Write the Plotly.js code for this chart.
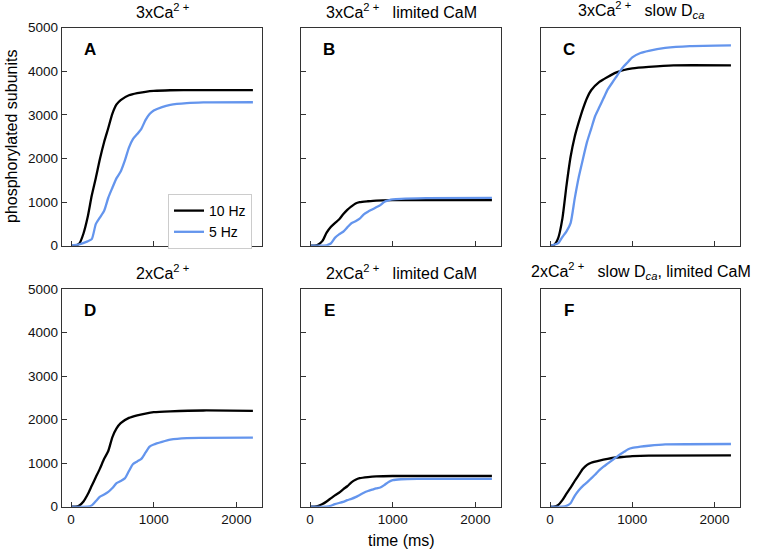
<!DOCTYPE html>
<html>
<head>
<meta charset="utf-8">
<script src="https://cdn.plot.ly/plotly-3.0.1.min.js"></script>
<style>html,body{margin:0;padding:0;background:#fff;}#chart{width:760px;height:551px;}</style>
</head>
<body>
<div id="chart"></div>
<script>
// ---- data (time in ms, phosphorylated subunits) ----
const panelLetters = ["A", "B", "C", "D", "E", "F"];
const panelTitles = [
  "3xCa<sup>2 +</sup>",
  "3xCa<sup>2 +</sup>&nbsp;&nbsp;&nbsp;limited CaM",
  "3xCa<sup>2 +</sup>&nbsp;&nbsp;&nbsp;slow D<sub><i>ca</i></sub>",
  "2xCa<sup>2 +</sup>",
  "2xCa<sup>2 +</sup>&nbsp;&nbsp;&nbsp;limited CaM",
  "2xCa<sup>2 +</sup>&nbsp;&nbsp;&nbsp;slow D<sub><i>ca</i></sub>, limited CaM"
];
const seriesNames = ["10 Hz", "5 Hz"];
const xTicks = [0, 1000, 2000];
const yTicks = [0, 1000, 2000, 3000, 4000, 5000];

// Panel A
const A_t10 = [0, 50, 100, 150, 200, 250, 300, 350, 400, 450, 500, 550, 600, 700, 800, 900, 1000, 1200, 1500, 2200];
const A_v10 = [0, 0, 50, 280, 650, 1150, 1560, 2000, 2380, 2700, 3030, 3240, 3340, 3450, 3500, 3530, 3550, 3565, 3570, 3570];
const A_t5 = [0, 100, 200, 250, 300, 350, 400, 450, 500, 550, 600, 650, 700, 750, 800, 850, 900, 950, 1000, 1100, 1200, 1400, 1600, 2200];
const A_v5 = [0, 30, 100, 150, 500, 650, 800, 1100, 1330, 1550, 1700, 1950, 2250, 2450, 2560, 2680, 2880, 3020, 3100, 3180, 3230, 3270, 3285, 3290];
// Panel B
const B_t10 = [0, 50, 100, 150, 200, 250, 300, 350, 400, 450, 500, 550, 600, 700, 800, 1000, 2200];
const B_v10 = [0, 0, 30, 110, 300, 430, 520, 600, 720, 820, 900, 970, 1000, 1020, 1035, 1045, 1045];
const B_t5 = [0, 100, 200, 250, 300, 350, 400, 450, 500, 550, 600, 650, 700, 750, 800, 850, 900, 950, 1000, 1100, 1400, 2200];
const B_v5 = [0, 0, 10, 50, 180, 260, 320, 420, 515, 560, 620, 720, 780, 830, 880, 930, 1010, 1040, 1060, 1075, 1090, 1095];
// Panel C
const C_t10 = [0, 50, 100, 150, 200, 250, 300, 350, 400, 450, 500, 600, 700, 800, 900, 1000, 1200, 1500, 2200];
const C_v10 = [0, 20, 180, 620, 1380, 2040, 2500, 2840, 3140, 3390, 3565, 3756, 3870, 3970, 4030, 4065, 4100, 4135, 4135];
const C_t5 = [0, 100, 150, 200, 250, 300, 350, 400, 450, 500, 550, 600, 650, 700, 750, 800, 850, 900, 950, 1000, 1100, 1200, 1400, 1700, 2200];
const C_v5 = [0, 60, 200, 330, 520, 1080, 1580, 1990, 2380, 2680, 2980, 3180, 3380, 3580, 3720, 3860, 4000, 4120, 4220, 4320, 4420, 4470, 4535, 4578, 4595];
// Panel D
const D_t10 = [0, 50, 100, 150, 200, 250, 300, 350, 400, 450, 500, 550, 600, 700, 800, 900, 1000, 1200, 1600, 2200];
const D_v10 = [0, 0, 30, 120, 280, 480, 680, 880, 1100, 1280, 1600, 1800, 1920, 2040, 2100, 2140, 2170, 2190, 2210, 2200];
const D_t5 = [0, 200, 250, 300, 350, 400, 450, 500, 550, 600, 650, 700, 750, 800, 850, 900, 950, 1000, 1100, 1200, 1400, 2200];
const D_v5 = [0, 0, 30, 130, 230, 280, 340, 430, 540, 590, 650, 820, 980, 1040, 1100, 1240, 1380, 1430, 1490, 1540, 1575, 1585];
// Panel E
const E_t10 = [0, 50, 100, 150, 200, 250, 300, 350, 400, 450, 500, 550, 600, 700, 800, 1000, 2200];
const E_v10 = [0, 0, 20, 60, 120, 190, 260, 320, 400, 470, 560, 620, 655, 680, 695, 705, 705];
const E_t5 = [0, 200, 250, 300, 400, 450, 500, 550, 600, 650, 700, 750, 800, 850, 900, 950, 1000, 1100, 1300, 2200];
const E_v5 = [0, 0, 20, 60, 110, 150, 180, 220, 270, 320, 360, 390, 420, 440, 500, 570, 610, 630, 640, 640];
// Panel F
const F_t10 = [0, 50, 100, 150, 200, 250, 300, 350, 400, 450, 500, 600, 700, 800, 900, 1000, 1200, 2200];
const F_v10 = [0, 0, 40, 150, 300, 440, 590, 730, 870, 960, 1010, 1060, 1100, 1130, 1145, 1160, 1175, 1180];
const F_t5 = [0, 150, 200, 250, 300, 350, 400, 450, 500, 550, 600, 650, 700, 750, 800, 850, 900, 950, 1000, 1100, 1200, 1400, 2200];
const F_v5 = [0, 0, 20, 80, 250, 380, 480, 560, 650, 740, 840, 920, 990, 1060, 1130, 1200, 1260, 1320, 1350, 1380, 1400, 1430, 1440];

const panels = [
  [A_t10, A_v10, A_t5, A_v5],
  [B_t10, B_v10, B_t5, B_v5],
  [C_t10, C_v10, C_t5, C_v5],
  [D_t10, D_v10, D_t5, D_v5],
  [E_t10, E_v10, E_t5, E_v5],
  [F_t10, F_v10, F_t5, F_v5]
];

// ---- layout geometry (pixels) ----
const W = 760, H = 551;
const colPx = [[62, 262], [301, 501], [541, 740]];
const rowPx = [[27.7, 245.7], [289, 506.7]];
const colors = ["#000000", "#6495ED"];
const FONT = "Liberation Sans, Arial, sans-serif";

const traces = [];
const layout = {
  width: W, height: H,
  margin: {l: 0, r: 0, t: 0, b: 0},
  paper_bgcolor: "#fff", plot_bgcolor: "#fff",
  font: {family: FONT, size: 13.5, color: "#000"},
  showlegend: true,
  legend: {
    x: 168 / W, y: 1 - 194 / H, xanchor: "left", yanchor: "top",
    bgcolor: "#fff", bordercolor: "#cccccc", borderwidth: 1,
    font: {family: FONT, size: 14, color: "#000"},
    tracegroupgap: 0, itemwidth: 30
  },
  annotations: []
};

panels.forEach((p, i) => {
  const r = Math.floor(i / 3), c = i % 3;
  const n = i === 0 ? "" : String(i + 1);
  const xa = "x" + n, ya = "y" + n;
  for (let s = 0; s < 2; s++) {
    traces.push({
      type: "scatter", mode: "lines",
      x: p[2 * s], y: p[2 * s + 1],
      xaxis: xa, yaxis: ya,
      name: seriesNames[s],
      showlegend: i === 0,
      line: {color: colors[s], width: 2.3, shape: "spline", smoothing: 0.6},
      hoverinfo: "skip"
    });
  }
  const axCommon = {
    showline: true, mirror: true, linecolor: "#333", linewidth: 1.2,
    ticks: "inside", ticklen: 5, tickwidth: 1, tickcolor: "#333",
    showgrid: false, zeroline: false, fixedrange: true,
    tickfont: {family: FONT, size: 13.5, color: "#111"}
  };
  layout["xaxis" + n] = Object.assign({}, axCommon, {
    domain: [colPx[c][0] / W, colPx[c][1] / W],
    anchor: ya,
    range: [-110, 2310],
    tickvals: xTicks,
    ticktext: xTicks.map(String),
    showticklabels: r === 1
  });
  layout["yaxis" + n] = Object.assign({}, axCommon, {
    domain: [1 - rowPx[r][1] / H, 1 - rowPx[r][0] / H],
    anchor: xa,
    range: [0, 5000],
    tickvals: yTicks,
    ticktext: yTicks.map(String),
    showticklabels: c === 0
  });
  // panel title
  layout.annotations.push({
    text: panelTitles[i], xref: "paper", yref: "paper",
    x: (colPx[c][0] + colPx[c][1]) / 2 / W,
    y: 1 - (rowPx[r][0] - 5) / H,
    xanchor: "center", yanchor: "bottom", showarrow: false,
    font: {family: FONT, size: 16, color: "#000"}
  });
  // panel letter
  layout.annotations.push({
    text: "<b>" + panelLetters[i] + "</b>", xref: xa + " domain", yref: ya + " domain",
    x: 0.14, y: 0.9, xanchor: "center", yanchor: "middle", showarrow: false,
    font: {family: FONT, size: 17, color: "#000"}
  });
});

// axis titles
layout.annotations.push({
  text: "phosphorylated subunits", xref: "paper", yref: "paper",
  x: 12 / W, y: 1 - 137 / H, textangle: -90,
  xanchor: "center", yanchor: "middle", showarrow: false,
  font: {family: FONT, size: 16, color: "#000"}
});
layout.annotations.push({
  text: "time (ms)", xref: "paper", yref: "paper",
  x: 401 / W, y: 1 - 540 / H,
  xanchor: "center", yanchor: "middle", showarrow: false,
  font: {family: FONT, size: 16, color: "#000"}
});

Plotly.newPlot("chart", traces, layout, {displayModeBar: false, staticPlot: true});
</script>
</body>
</html>
